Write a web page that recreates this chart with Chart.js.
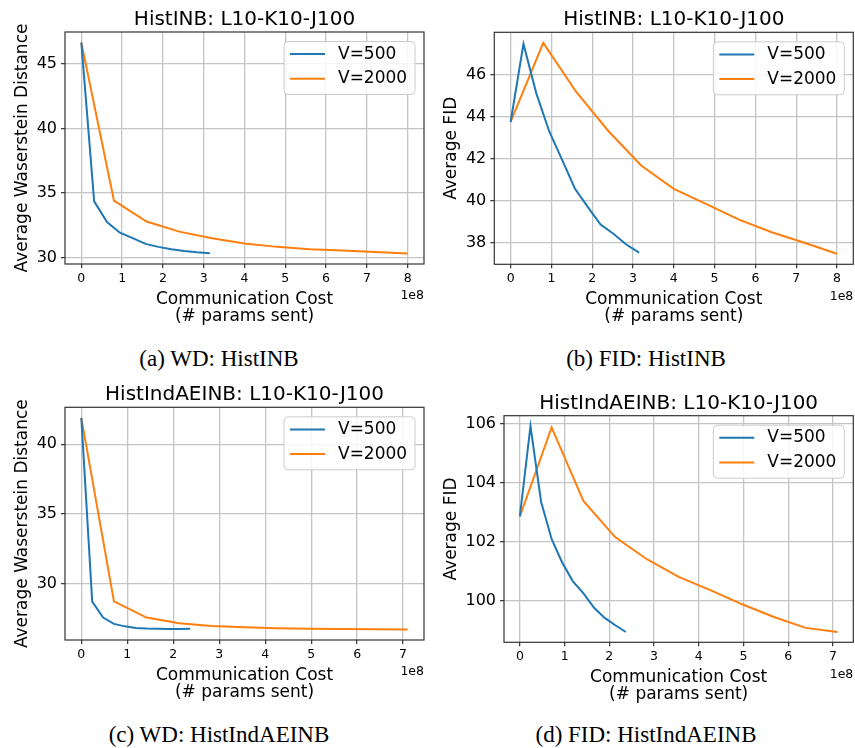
<!DOCTYPE html>
<html>
<head>
<meta charset="utf-8">
<script src="https://cdn.jsdelivr.net/npm/chart.js@4.4.0/dist/chart.umd.min.js"></script>
<style>
  body { margin: 0; width: 855px; height: 748px; background: #fff; position: relative; overflow: hidden; }
  canvas { position: absolute; }
  .cap { position: absolute; font-family: "Liberation Serif", "Times New Roman", serif; font-size: 23px; line-height: 23px; white-space: nowrap; transform: translateX(-50%); color: #000; }
</style>
</head>
<body>
<canvas id="wdHist"></canvas>
<canvas id="fidHist"></canvas>
<canvas id="wdAE"></canvas>
<canvas id="fidAE"></canvas>
<div class="cap" style="left:219px;top:347px">(a) WD: HistINB</div>
<div class="cap" style="left:646px;top:347px">(b) FID: HistINB</div>
<div class="cap" style="left:219px;top:723px">(c) WD: HistIndAEINB</div>
<div class="cap" style="left:646px;top:723px">(d) FID: HistIndAEINB</div>
<script>
// communication cost, in units of 1e8 params
const costHist500  = [0, 0.315, 0.63, 0.945, 1.26, 1.575, 1.89, 2.205, 2.52, 2.835, 3.15];
const costHist2000 = [0, 0.8, 1.6, 2.4, 3.2, 4.0, 4.8, 5.6, 6.4, 7.2, 8.0];
const costAE500    = [0, 0.237, 0.474, 0.711, 0.948, 1.185, 1.422, 1.659, 1.896, 2.133, 2.37];
const costAE2000   = [0, 0.71, 1.42, 2.13, 2.84, 3.55, 4.26, 4.97, 5.68, 6.39, 7.1];

// HistINB
const wdHist500   = [46.65, 34.35, 32.75, 31.92, 31.5, 31.05, 30.82, 30.63, 30.5, 30.4, 30.33];
const wdHist2000  = [46.65, 34.4, 32.78, 32.0, 31.49, 31.08, 30.82, 30.64, 30.54, 30.43, 30.31];
const fidHist500  = [43.74, 47.45, 45.1, 43.3, 41.95, 40.58, 39.71, 38.87, 38.43, 37.92, 37.53];
const fidHist2000 = [43.74, 47.5, 45.19, 43.3, 41.67, 40.56, 39.84, 39.1, 38.5, 38.0, 37.48];

// HistIndAEINB
const wdAE500   = [41.9, 28.7, 27.55, 27.1, 26.92, 26.8, 26.76, 26.74, 26.73, 26.73, 26.74];
const wdAE2000  = [41.9, 28.71, 27.55, 27.15, 26.95, 26.86, 26.79, 26.75, 26.73, 26.72, 26.7];
const fidAE500  = [102.85, 105.92, 103.35, 102.08, 101.28, 100.65, 100.24, 99.75, 99.41, 99.16, 98.93];
const fidAE2000 = [102.85, 105.87, 103.38, 102.15, 101.4, 100.8, 100.35, 99.87, 99.44, 99.07, 98.93];

const ticksHistX = [0, 1, 2, 3, 4, 5, 6, 7, 8];
const ticksAEX   = [0, 1, 2, 3, 4, 5, 6, 7];
const ticksWdHist  = [30, 35, 40, 45];
const ticksFidHist = [38, 40, 42, 44, 46];
const ticksWdAE    = [30, 35, 40];
const ticksFidAE   = [100, 102, 104, 106];

const seriesLabels = ['V=500', 'V=2000'];
const BLUE = '#1f77b4', ORANGE = '#ff7f0e';
const GRID = '#c4c4c4', SPINE = '#333333';

Chart.defaults.font.family = '"DejaVu Sans", sans-serif';
Chart.defaults.color = '#000';

function pts(xs, ys) {
  return xs.map((x, i) => ({ x: x, y: ys[i] }));
}

// matplotlib style 5% margins
function padRange(arrs) {
  const all = [].concat(...arrs);
  const lo = Math.min(...all), hi = Math.max(...all);
  const m = (hi - lo) * 0.05;
  return [lo - m, hi + m];
}

// frame, boxed legend and the 1e8 offset text
const mplFrame = {
  id: 'mplFrame',
  afterDatasetsDraw(chart) {
    const ctx = chart.ctx, ca = chart.chartArea;
    ctx.save();
    ctx.strokeStyle = SPINE;
    ctx.lineWidth = 1.2;
    ctx.strokeRect(ca.left, ca.top, ca.right - ca.left, ca.bottom - ca.top);

    const w = 131, h = 53;
    const x0 = ca.right - 9 - w, y0 = ca.top + 9.5;
    ctx.beginPath();
    ctx.roundRect(x0, y0, w, h, 4);
    ctx.fillStyle = 'rgba(255,255,255,0.85)';
    ctx.fill();
    ctx.strokeStyle = '#cccccc';
    ctx.lineWidth = 1;
    ctx.stroke();
    ctx.font = '17px "DejaVu Sans"';
    ctx.textBaseline = 'middle';
    chart.data.datasets.forEach((ds, i) => {
      const cy = y0 + 12.6 + i * 24.7;
      ctx.beginPath();
      ctx.moveTo(x0 + 6, cy);
      ctx.lineTo(x0 + 41, cy);
      ctx.strokeStyle = ds.borderColor;
      ctx.lineWidth = 2;
      ctx.stroke();
      ctx.fillStyle = '#000';
      ctx.fillText(ds.label, x0 + 54, cy);
    });

    ctx.font = '12.5px "DejaVu Sans"';
    ctx.textAlign = 'right';
    ctx.fillText('1e8', ca.right, ca.bottom + 32);
    ctx.restore();
  }
};

function panel(id, cfg) {
  const g = cfg.box;
  const cv = document.getElementById(id);
  cv.width = g.w; cv.height = g.h;
  Object.assign(cv.style, { left: g.x + 'px', top: g.y + 'px', width: g.w + 'px', height: g.h + 'px' });
  const [xmin, xmax] = padRange([cfg.x500, cfg.x2000]);
  const [ymin, ymax] = padRange([cfg.y500, cfg.y2000]);

  return new Chart(cv, {
    type: 'line',
    data: {
      datasets: [
        { label: seriesLabels[0], data: pts(cfg.x500, cfg.y500), borderColor: BLUE },
        { label: seriesLabels[1], data: pts(cfg.x2000, cfg.y2000), borderColor: ORANGE }
      ]
    },
    options: {
      responsive: false,
      animation: false,
      devicePixelRatio: 1,
      datasets: { line: { borderWidth: 2, pointRadius: 0, tension: 0, fill: false } },
      layout: { padding: { left: 0, right: g.w - g.r, top: 0, bottom: 0 } },
      plugins: {
        legend: { display: false },
        tooltip: { enabled: false },
        title: {
          display: true, text: cfg.title, fullSize: false, color: '#000',
          font: { size: 20, weight: 'normal', lineHeight: 1.2 },
          padding: { top: 8, bottom: g.t - 24 - 8 }
        }
      },
      scales: {
        x: {
          type: 'linear', min: xmin, max: xmax,
          afterBuildTicks: s => { s.ticks = cfg.xTicks.map(v => ({ value: v })); },
          afterFit: s => { s.height = g.h - g.b; },
          ticks: { font: { size: 12.5 }, padding: 3, maxRotation: 0 },
          grid: { color: GRID, lineWidth: 1.3, tickColor: SPINE, tickLength: 4, tickWidth: 1.2 },
          border: { display: false },
          title: {
            display: true, text: ['Communication Cost', '(# params sent)'],
            font: { size: 17, lineHeight: 1.02 }, padding: { top: 0, bottom: 4.5 }
          }
        },
        y: {
          type: 'linear', min: ymin, max: ymax,
          afterBuildTicks: s => { s.ticks = cfg.yTicks.map(v => ({ value: v })); },
          afterFit: s => { s.width = g.l; },
          ticks: { font: { size: 16 }, padding: 4 },
          grid: { color: GRID, lineWidth: 1.3, tickColor: SPINE, tickLength: 4, tickWidth: 1.2 },
          border: { display: false },
          title: {
            display: true, text: cfg.yLabel,
            font: { size: 17, lineHeight: 1.2 }, padding: { top: g.yt - 9, bottom: 0 }
          }
        }
      }
    },
    plugins: [mplFrame]
  });
}

panel('wdHist', {
  box: { x: 0, y: 0, w: 430, h: 330, l: 65, r: 424, t: 32, b: 264, yt: 21.6 },
  title: 'HistINB: L10-K10-J100', yLabel: 'Average Waserstein Distance',
  x500: costHist500, y500: wdHist500, x2000: costHist2000, y2000: wdHist2000,
  xTicks: ticksHistX, yTicks: ticksWdHist
});

panel('fidHist', {
  box: { x: 430, y: 0, w: 425, h: 330, l: 64.3, r: 423.3, t: 32.3, b: 264.3, yt: 20.7 },
  title: 'HistINB: L10-K10-J100', yLabel: 'Average FID',
  x500: costHist500, y500: fidHist500, x2000: costHist2000, y2000: fidHist2000,
  xTicks: ticksHistX, yTicks: ticksFidHist
});

panel('wdAE', {
  box: { x: 0, y: 375, w: 430, h: 331, l: 65, r: 424, t: 32.3, b: 265, yt: 21.7 },
  title: 'HistIndAEINB: L10-K10-J100', yLabel: 'Average Waserstein Distance',
  x500: costAE500, y500: wdAE500, x2000: costAE2000, y2000: wdAE2000,
  xTicks: ticksAEX, yTicks: ticksWdAE
});

panel('fidAE', {
  box: { x: 430, y: 384, w: 425, h: 324, l: 74, r: 423.3, t: 31.7, b: 258.3, yt: 20 },
  title: 'HistIndAEINB: L10-K10-J100', yLabel: 'Average FID',
  x500: costAE500, y500: fidAE500, x2000: costAE2000, y2000: fidAE2000,
  xTicks: ticksAEX, yTicks: ticksFidAE
});
</script>
</body>
</html>
